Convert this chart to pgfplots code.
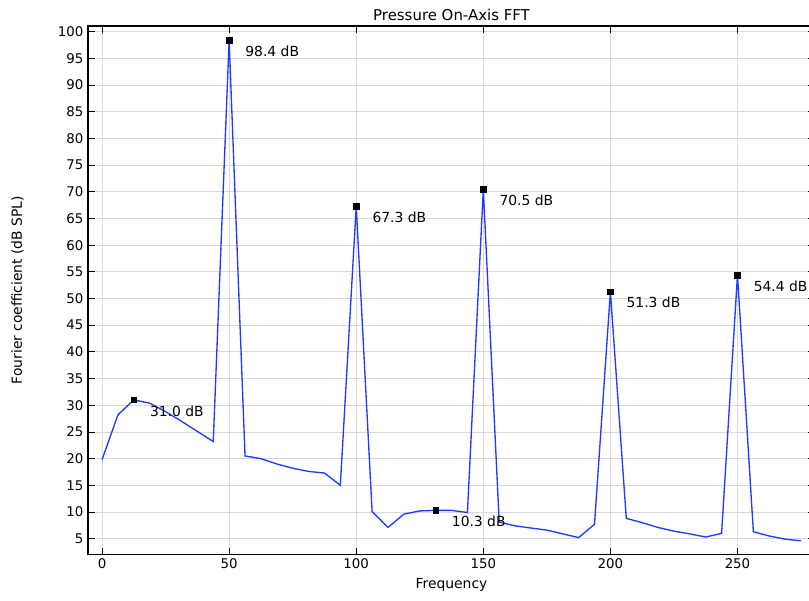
\documentclass[border=0pt]{standalone}
\usepackage{fontspec}
\setmainfont{DejaVu Sans}
\usepackage{pgfplots}
\pgfplotsset{compat=1.18}
\definecolor{fftblue}{RGB}{30,60,255}
\begin{document}
\begin{tikzpicture}
\begin{axis}[
  name=ax,
  scale only axis,
  width=544.9pt, height=396pt,
  xmin=-5.51, xmax=280.5,
  ymin=2.07, ymax=101.07,
  xtick={0,50,...,250},
  ytick={5,10,...,100},
  tick align=inside,
  major tick length=5pt,
  tick style={black, line width=0.6pt},
  axis line style={black, line width=0.9pt},
  grid=major,
  major grid style={gray!30, line width=0.6pt},
  /pgf/number format/assume math mode=true,
  tick label style={font=\fontsize{10}{12}\selectfont},
  title={Pressure On-Axis FFT},
  title style={at={(axis description cs:0.5,1.0246)}, anchor=center, yshift=-7.5pt, font=\fontsize{11.2}{13}\selectfont},
  xlabel={Frequency},
  xlabel style={at={(axis description cs:0.5,-0.0587)}, anchor=center, font=\fontsize{10.4}{12}\selectfont},
  ylabel={Fourier coefficient (dB SPL)},
  ylabel style={at={(axis description cs:-0.097,0.5)}, anchor=center, font=\fontsize{10.4}{12}\selectfont},
  clip=false,
]
\addplot[fftblue, line width=1pt, mark=none] coordinates {
(0,19.8) (6.25,28.2) (12.5,31.0) (18.75,30.4) (25,28.8) (31.25,27.0) (37.5,25.1) (43.75,23.2)
(50,98.4) (56.25,20.5) (62.5,20.0) (68.75,19.0) (75,18.2) (81.25,17.6) (87.5,17.3) (93.75,15.0)
(100,67.3) (106.25,10.1) (112.5,7.1) (118.75,9.6) (125,10.2) (131.25,10.3) (137.5,10.3) (143.75,9.9)
(150,70.5) (156.25,8.1) (162.5,7.4) (168.75,7.0) (175,6.6) (181.25,5.9) (187.5,5.2) (193.75,7.7)
(200,51.3) (206.25,8.8) (212.5,8.0) (218.75,7.1) (225,6.4) (231.25,5.9) (237.5,5.3) (243.75,6.0)
(250,54.4) (256.25,6.3) (262.5,5.5) (268.75,4.9) (275,4.6)
};
\addplot[only marks, mark=square*, mark size=2.1pt, black,
  point meta=explicit symbolic,
  nodes near coords,
  every node near coord/.append style={anchor=west, inner sep=0pt, xshift=12pt, yshift=-8.3pt, black, font=\fontsize{10.4}{12}\selectfont}]
  table[meta=lab] {
x y lab
12.5 31.0 {31.0 dB}
50 98.4 {98.4 dB}
100 67.3 {67.3 dB}
131.25 10.3 {10.3 dB}
150 70.5 {70.5 dB}
200 51.3 {51.3 dB}
250 54.4 {54.4 dB}
};
\end{axis}
\pgfresetboundingbox
\path[use as bounding box] ([xshift=-66pt,yshift=-34.5pt]ax.south west) rectangle ([xshift=-4.5pt,yshift=19.5pt]ax.north east);
\end{tikzpicture}
\end{document}
